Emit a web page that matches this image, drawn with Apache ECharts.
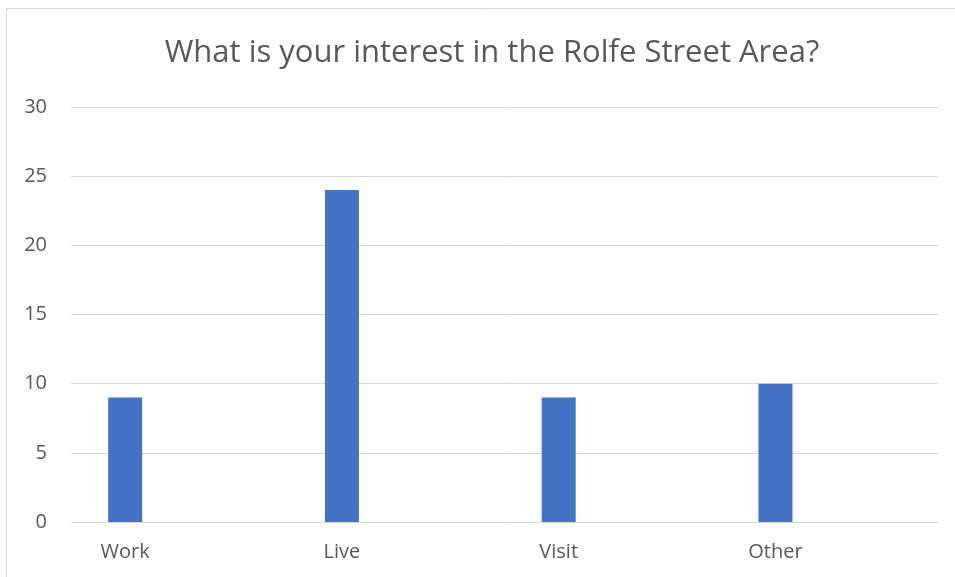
<!DOCTYPE html>
<html>
<head>
<meta charset="utf-8">
<script src="https://cdn.jsdelivr.net/npm/echarts@6/dist/echarts.min.js"></script>
<style>
  html, body { margin: 0; padding: 0; background: #fff; }
  #main { width: 955px; height: 577px; }
</style>
</head>
<body>
<div id="main"></div>
<script>
// 数据
const categories = ['Work', 'Live', 'Visit', 'Other'];
const counts = [9, 24, 9, 10];
const yTicks = [0, 5, 10, 15, 20, 25, 30];

const textColor = '#595959';
const font = 'Open Sans';

const chart = echarts.init(document.getElementById('main'));

const option = {
  backgroundColor: '#fff',
  animation: false,
  title: {
    text: 'What is your interest in the Rolfe Street Area?',
    left: 487,
    textAlign: 'center',
    top: 33,
    textStyle: { color: textColor, fontFamily: font, fontSize: 31, fontWeight: 'normal' }
  },
  graphic: [{
    type: 'rect',
    shape: { x: 6.5, y: 8.5, width: 980, height: 600 },
    style: { fill: 'none', stroke: '#d9d9d9', lineWidth: 1 },
    silent: true
  }],
  grid: { left: 71, right: 17, top: 107, bottom: 55 },
  xAxis: {
    type: 'value',
    min: -0.25,
    max: 3.75,
    splitLine: { show: false },
    axisTick: { show: false },
    axisLine: { show: false },
    axisLabel: {
      customValues: categories.map((c, i) => i),
      formatter: (v) => categories[Math.round(v)] || '',
      color: textColor,
      fontFamily: font,
      fontSize: 20,
      margin: 20
    }
  },
  yAxis: {
    type: 'value',
    min: yTicks[0],
    max: yTicks[yTicks.length - 1],
    interval: 5,
    axisLine: { show: false },
    axisTick: { show: false },
    splitLine: { lineStyle: { color: '#d9d9d9', width: 1 } },
    axisLabel: { color: textColor, fontFamily: font, fontSize: 20, margin: 24 }
  },
  series: [{
    type: 'bar',
    data: counts.map((v, i) => [i, v]),
    barWidth: 34,
    itemStyle: { color: '#4472c4' }
  }]
};

chart.setOption(option);
</script>
</body>
</html>
